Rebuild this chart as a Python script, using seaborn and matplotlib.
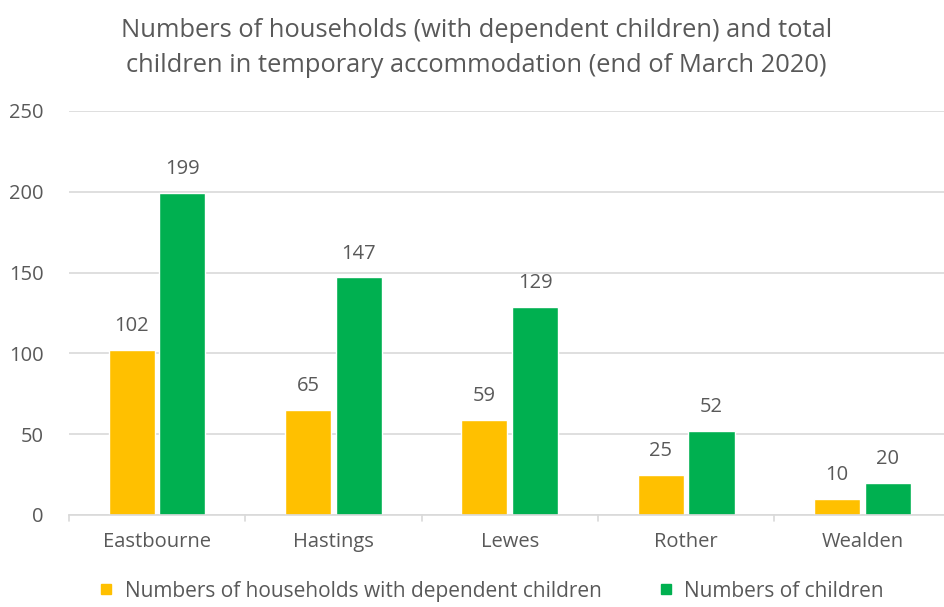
import pandas as pd
import matplotlib.pyplot as plt
import seaborn as sns
from matplotlib.lines import Line2D

districts = ['Eastbourne', 'Hastings', 'Lewes', 'Rother', 'Wealden']
households = [102, 65, 59, 25, 10]
children = [199, 147, 129, 52, 20]
series_names = ['Numbers of households with dependent children', 'Numbers of children']
colors = ['#FFC000', '#00B050']

df = pd.DataFrame({
    'district': districts * 2,
    'value': households + children,
    'series': [series_names[0]] * len(districts) + [series_names[1]] * len(districts),
})

sns.set_style('white')
plt.rcParams['font.family'] = ['Open Sans', 'DejaVu Sans']
text_col = '#595959'

fig = plt.figure(figsize=(9.44, 6.07), dpi=100)
ax = fig.add_axes([0.073, 0.1516, 0.934, 0.6656])

sns.barplot(data=df, x='district', y='value', hue='series', palette=colors,
            width=0.575, gap=0.09, saturation=1, legend=False, ax=ax)

for cont in ax.containers:
    ax.bar_label(cont, padding=10, fontsize=14.5, color=text_col)

ax.set_ylim(0, 250)
ax.set_yticks(range(0, 251, 50))
ax.set_xlim(-0.5, 4.5)
ax.yaxis.grid(True, color='#D9D9D9', linewidth=1.2)
ax.set_axisbelow(True)
for s in ['top', 'right', 'left']:
    ax.spines[s].set_visible(False)
ax.spines['bottom'].set_color('#D9D9D9')
ax.spines['bottom'].set_linewidth(1.2)
ax.set_xlabel('')
ax.set_ylabel('')
ax.tick_params(axis='y', length=0, labelsize=14.5, colors=text_col, pad=18)
ax.tick_params(axis='x', length=0, labelsize=14.5, colors=text_col, pad=12)

# category separator ticks
for xt in [-0.5, 0.5, 1.5, 2.5, 3.5]:
    ax.plot([xt, xt], [0, -4], color='#D9D9D9', linewidth=1.2, clip_on=False)

fig.text(0.505, 0.921, 'Numbers of households (with dependent children) and total\nchildren in temporary accommodation (end of March 2020)',
         ha='center', va='center', fontsize=18.4, color=text_col, linespacing=1.53)

handles = [Line2D([], [], marker='s', linestyle='', markersize=6.5, color=c) for c in colors]
fig.legend(handles, series_names, loc='center', bbox_to_anchor=(0.52, 0.026),
           ncol=2, frameon=False, fontsize=15, labelcolor=text_col,
           handlelength=0.8, handletextpad=0.5, columnspacing=2.67)

fig.savefig('out.png', dpi=100)
